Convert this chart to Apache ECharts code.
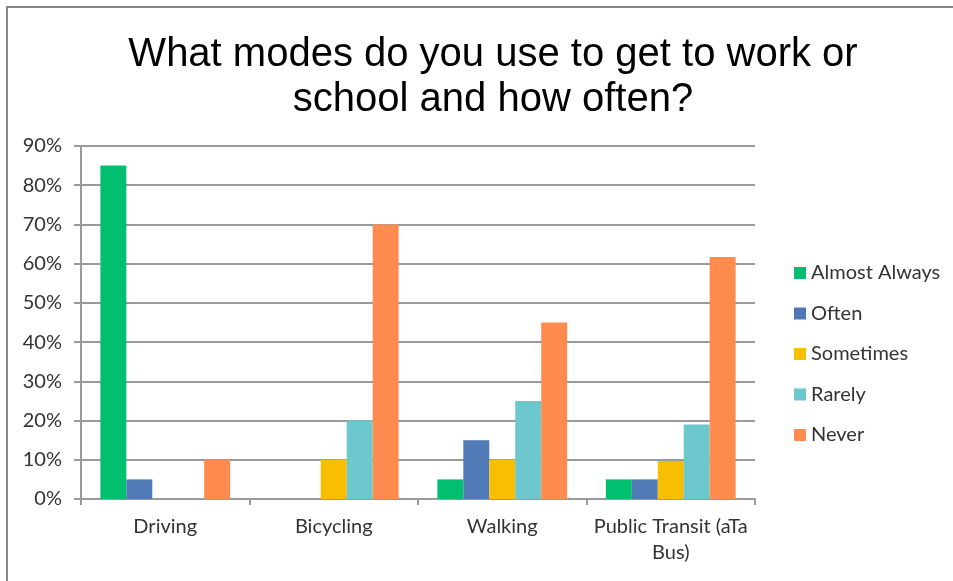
<!DOCTYPE html>
<html>
<head>
<meta charset="utf-8">
<script src="https://cdn.jsdelivr.net/npm/echarts@6/dist/echarts.min.js"></script>
<style>
  html, body { margin: 0; padding: 0; background: #fff; }
  #chart { width: 953px; height: 581px; }
</style>
</head>
<body>
<div id="chart"></div>
<script>
var categories = ['Driving', 'Bicycling', 'Walking', 'Public Transit (aTa Bus)'];
var almostAlways = [85, 0, 5, 5];
var often = [5, 0, 15, 5];
var sometimes = [0, 10, 10, 9.7];
var rarely = [0, 20, 25, 19];
var never = [10, 70, 45, 61.7];
var yTicks = [0, 90, 10]; // min, max, step (%)

var chart = echarts.init(document.getElementById('chart'));

var labelFont = 'Lato, "Noto Sans", sans-serif';
var gridColor = '#9a9a9a';

function bar(name, data, color) {
  return {
    name: name,
    type: 'bar',
    data: data,
    barGap: '0%',
    barCategoryGap: '23%',
    itemStyle: { color: color },
    emphasis: { disabled: true }
  };
}

var option = {
  animation: false,
  backgroundColor: '#fff',
  title: {
    text: 'What modes do you use to get to work or\nschool and how often?',
    left: 488,
    top: 27,
    textAlign: 'center',
    textStyle: {
      fontFamily: '"Liberation Sans", Arial, sans-serif',
      fontWeight: 'normal',
      fontSize: 40,
      lineHeight: 45,
      color: '#000'
    }
  },
  legend: {
    orient: 'vertical',
    left: 789,
    top: 258,
    itemWidth: 12,
    itemHeight: 12,
    itemGap: 20.5,
    icon: 'rect',
    textStyle: { fontFamily: labelFont, fontSize: 20, lineHeight: 20, color: '#333' },
    data: ['Almost Always', 'Often', 'Sometimes', 'Rarely', 'Never']
  },
  grid: { left: 81, right: 198, top: 146, bottom: 82 },
  xAxis: {
    type: 'category',
    data: categories,
    axisLine: { lineStyle: { color: gridColor, width: 2 } },
    axisTick: { show: true, length: 6, lineStyle: { color: gridColor, width: 2 } },
    axisLabel: {
      interval: 0,
      margin: 15,
      fontFamily: labelFont,
      fontSize: 20,
      lineHeight: 26,
      color: '#333',
      formatter: function (v) { return v.replace(' Bus)', '\nBus)'); }
    }
  },
  yAxis: {
    type: 'value',
    min: yTicks[0],
    max: yTicks[1],
    interval: yTicks[2],
    axisLine: { show: true, lineStyle: { color: gridColor, width: 2 } },
    axisTick: { show: true, length: 7, lineStyle: { color: gridColor, width: 2 } },
    splitLine: { lineStyle: { color: gridColor, width: 2 } },
    axisLabel: {
      margin: 19,
      fontFamily: labelFont,
      fontSize: 20,
      color: '#333',
      formatter: '{value}%'
    }
  },
  series: [
    bar('Almost Always', almostAlways, '#00BF6F'),
    bar('Often', often, '#4F7AB5'),
    bar('Sometimes', sometimes, '#F8BE00'),
    bar('Rarely', rarely, '#6CC8CC'),
    bar('Never', never, '#FF8B4F')
  ],
  graphic: [{
    type: 'rect',
    shape: { x: 7, y: 7, width: 1000, height: 1000 },
    style: { fill: 'none', stroke: '#888', lineWidth: 2 },
    silent: true
  }]
};

chart.setOption(option);
</script>
</body>
</html>
